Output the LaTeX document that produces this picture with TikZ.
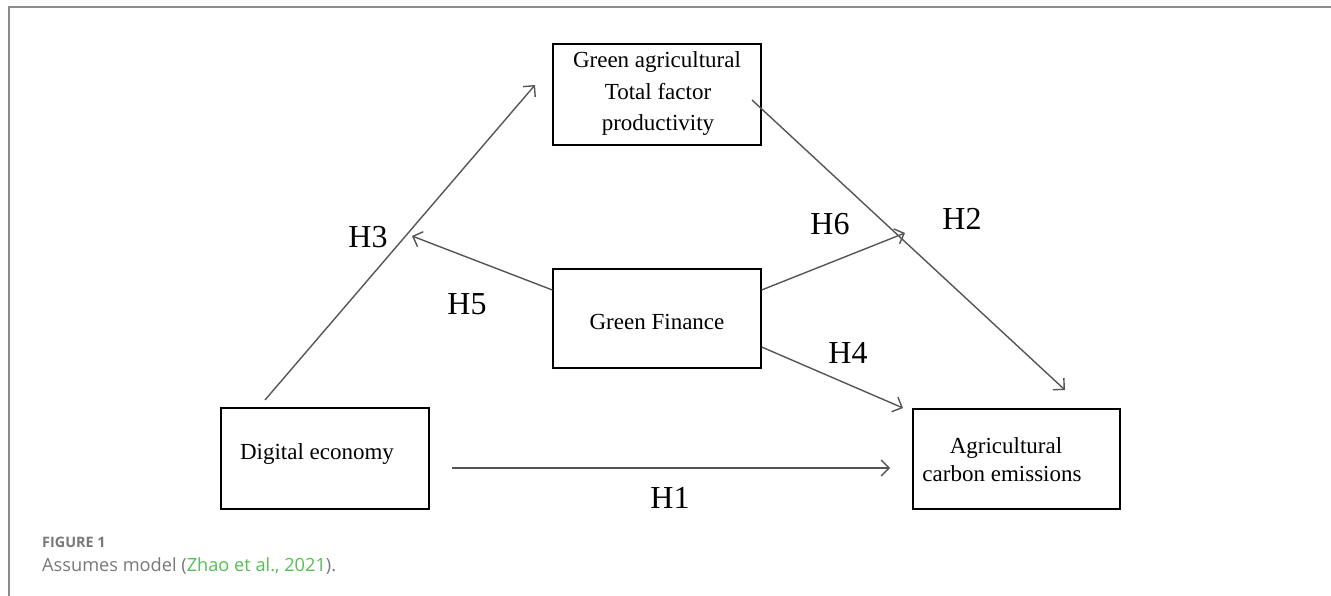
\documentclass[tikz,border=0pt]{standalone}
\usepackage{fontspec}
\setmainfont{Liberation Serif}
\newfontfamily\capfont{Open Sans}
\usetikzlibrary{arrows.meta}
\definecolor{framegray}{RGB}{140,140,140}
\definecolor{arrowgray}{RGB}{85,85,85}
\definecolor{capgray}{RGB}{120,120,120}
\definecolor{linkgreen}{RGB}{85,190,85}
\tikzset{
  box/.style={draw=black, line width=1.3pt, minimum width=208pt, inner sep=0pt},
  boxtext/.style={font=\fontsize{23}{27}\selectfont, inner sep=0pt},
  hlabel/.style={font=\fontsize{32}{36}\selectfont, inner sep=0pt},
  link/.style={draw=arrowgray, line width=1.4pt, -{Straight Barb[length=8pt,width=16pt,line width=1.4pt]}},
}
\begin{document}
\begin{tikzpicture}[x=1pt,y=-1pt]
\useasboundingbox (0,0) rectangle (1331,596);
\draw[framegray, line width=2pt] (1331,7) -- (9,7) -- (9,596);
% boxes
\node[box, minimum height=101pt] (tfp) at (657,94.5) {};
\node[box, minimum height=99pt] (gf) at (657,318.5) {};
\node[box, minimum height=101pt] (de) at (325,458.5) {};
\node[box, minimum width=207pt, minimum height=100pt] (ace) at (1016.5,459) {};
% texts
\node[boxtext] (t1) at (657,62) {Green agricultural};
\node[boxtext] (t2) at (658,92) {Total factor};
\node[boxtext] (t3) at (658,125) {productivity};
\node[boxtext] (t4) at (657,322) {Green Finance};
\node[boxtext] (t5) at (317,454) {Digital economy};
\node[boxtext] (t6) at (1006,448) {Agricultural};
\node[boxtext] (t7) at (1002,474) {carbon emissions};
% connector end points
\coordinate (h3s) at (265,400);
\coordinate (h3e) at (535,85);
\coordinate (h2s) at (752,100);
\coordinate (h2e) at (1065,390);
\coordinate (h5e) at (412,236);
\coordinate (h6e) at (905,233);
\coordinate (h4e) at (903,408);
\coordinate (h1s) at (452,468);
\coordinate (h1e) at (890,468);
\draw[link] (h3s) -- (h3e);
\draw[link] (h2s) -- (h2e);
\draw[link] (gf.west |- 0,290) -- (h5e);
\draw[link] (gf.east |- 0,290) -- (h6e);
\draw[link] (gf.east |- 0,347) -- (h4e);
\draw[link] (h1s) -- (h1e);
% labels
\node[hlabel] (l3) at (368,237) {H3};
\node[hlabel] (l2) at (962,219) {H2};
\node[hlabel] (l6) at (830,224) {H6};
\node[hlabel] (l5) at (467,304) {H5};
\node[hlabel] (l4) at (848,353) {H4};
\node[hlabel] (l1) at (670,498) {H1};
% caption
\node[anchor=west, inner sep=0pt, text=capgray, font=\capfont\bfseries\fontsize{14.4}{17}\selectfont] (fig) at (42,542) {FIGURE 1};
\node[anchor=west, inner sep=0pt, text=capgray, font=\capfont\fontsize{18.2}{22}\selectfont] (cap) at (42,566) {Assumes model (\textcolor{linkgreen}{Zhao et al., 2021}).};
\end{tikzpicture}
\end{document}
